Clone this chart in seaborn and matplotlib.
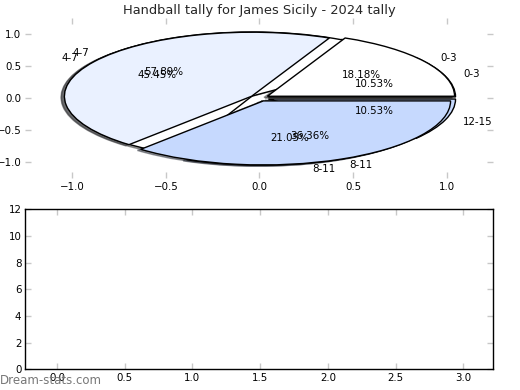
import matplotlib
matplotlib.use("Agg")
import matplotlib.pyplot as plt
import seaborn as sns

# Age groups and game tallies (two seasons drawn on the same pie axes)
groups_prev = ["0-3", "4-7", "8-11", "12-15"]
tally_prev = [2, 11, 4, 2]
groups_2024 = ["0-3", "4-7", "8-11"]
tally_2024 = [2, 5, 4]

colors_prev = ["#ffffff", "#ffffff", "#c6d9fe", "#c6d9fe"]
colors_2024 = ["#ffffff", "#eaf1ff", "#c6d9fe"]

sns.set_theme(style="white")
plt.rcParams["font.family"] = ["DejaVu Sans"]

fig, (ax_pie, ax_bar) = plt.subplots(2, 1, figsize=(5.2, 3.9), dpi=100)
fig.subplots_adjust(left=0.049, right=0.949, top=0.954, bottom=0.053, hspace=0.195)

wedge_style = {"edgecolor": "black", "linewidth": 1}
text_style = {"fontsize": 7.35, "color": "black"}
shadow_style = {"ox": -0.013, "oy": -0.013, "shade": 0.75}

# first pie underneath, 2024 pie on top
ax_pie.pie(tally_prev, labels=groups_prev, colors=colors_prev,
           explode=[0.05] * len(tally_prev), autopct="%1.2f%%",
           shadow=shadow_style, wedgeprops=wedge_style, textprops=text_style, frame=True)
ax_pie.pie(tally_2024, labels=groups_2024, colors=colors_2024,
           explode=[0.05] * len(tally_2024), autopct="%1.2f%%",
           shadow=shadow_style, wedgeprops=wedge_style, textprops=text_style, frame=True)

ax_pie.set_aspect("auto")
ax_pie.set_xlim(-1.25, 1.25)
ax_pie.set_ylim(-1.25, 1.25)
ax_pie.set_xticks([-1.0, -0.5, 0.0, 0.5, 1.0])
ax_pie.set_yticks([-1.0, -0.5, 0.0, 0.5, 1.0])
for s in ax_pie.spines.values():
    s.set_visible(False)
ax_pie.set_title("Handball tally for James Sicily - 2024 tally", fontsize=9.4, pad=3)

# empty lower panel
ax_bar.set_xlim(-0.232, 3.222)
ax_bar.set_ylim(0, 12)
ax_bar.set_xticks([0.0, 0.5, 1.0, 1.5, 2.0, 2.5, 3.0])
ax_bar.set_yticks([0, 2, 4, 6, 8, 10, 12])
for s in ax_bar.spines.values():
    s.set_visible(True)
    s.set_color("black")
    s.set_linewidth(1)

for ax in (ax_pie, ax_bar):
    ax.set_facecolor("white")
    ax.grid(False)
    ax.tick_params(direction="in", top=True, right=True, bottom=True, left=True,
                   color="#c8c8c8", length=4, width=1,
                   labelsize=7.35, labelcolor="black", pad=3)

fig.text(0.0, 0.016, "Dream-stats.com", fontsize=8.5, color="#777777", va="baseline")

fig.savefig("out.png", dpi=100, facecolor="white")
